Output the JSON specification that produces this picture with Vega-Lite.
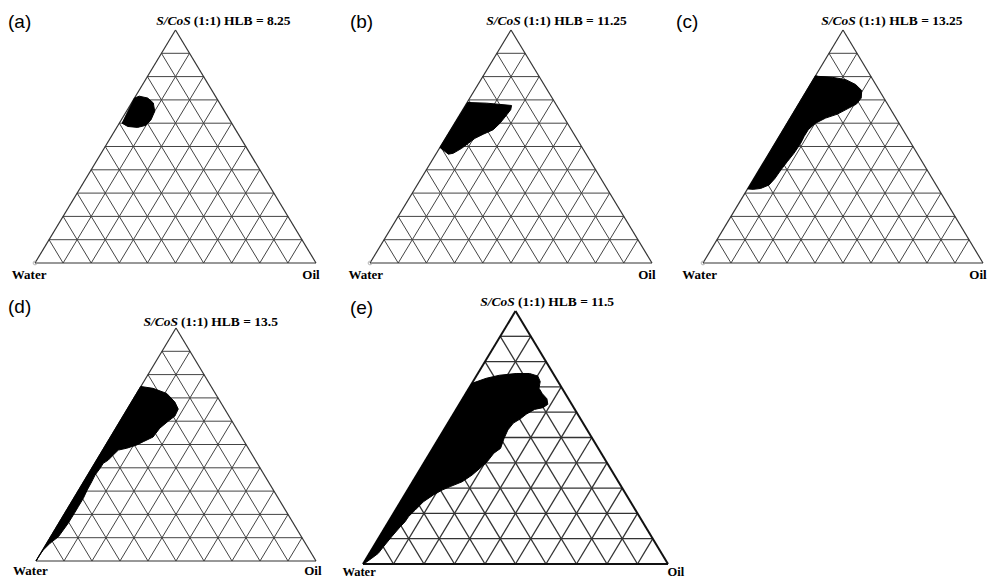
{
"$schema":"https://vega.github.io/schema/vega-lite/v6.json",
"padding":0,
"background":"white",
"config":{"view":{"stroke":null},"concat":{"spacing":0}},
"datasets":{
"grid":[
{"x":0.05,"y":0.1,"x2":0.95,"y2":0.1},{"x":0.1,"y":0.2,"x2":0.9,"y2":0.2},{"x":0.15,"y":0.3,"x2":0.85,"y2":0.3},{"x":0.2,"y":0.4,"x2":0.8,"y2":0.4},{"x":0.25,"y":0.5,"x2":0.75,"y2":0.5},{"x":0.3,"y":0.6,"x2":0.7,"y2":0.6},{"x":0.35,"y":0.7,"x2":0.65,"y2":0.7},{"x":0.4,"y":0.8,"x2":0.6,"y2":0.8},{"x":0.45,"y":0.9,"x2":0.55,"y2":0.9},
{"x":0.1,"y":0,"x2":0.55,"y2":0.9},{"x":0.2,"y":0,"x2":0.6,"y2":0.8},{"x":0.3,"y":0,"x2":0.65,"y2":0.7},{"x":0.4,"y":0,"x2":0.7,"y2":0.6},{"x":0.5,"y":0,"x2":0.75,"y2":0.5},{"x":0.6,"y":0,"x2":0.8,"y2":0.4},{"x":0.7,"y":0,"x2":0.85,"y2":0.3},{"x":0.8,"y":0,"x2":0.9,"y2":0.2},{"x":0.9,"y":0,"x2":0.95,"y2":0.1},
{"x":0.9,"y":0,"x2":0.45,"y2":0.9},{"x":0.8,"y":0,"x2":0.4,"y2":0.8},{"x":0.7,"y":0,"x2":0.35,"y2":0.7},{"x":0.6,"y":0,"x2":0.3,"y2":0.6},{"x":0.5,"y":0,"x2":0.25,"y2":0.5},{"x":0.4,"y":0,"x2":0.2,"y2":0.4},{"x":0.3,"y":0,"x2":0.15,"y2":0.3},{"x":0.2,"y":0,"x2":0.1,"y2":0.2},{"x":0.1,"y":0,"x2":0.05,"y2":0.1}
],
"sides":[{"x":0,"y":0,"x2":1,"y2":0},{"x":0,"y":0,"x2":0.5,"y2":1},{"x":1,"y":0,"x2":0.5,"y2":1}],
"corner":[{"x":0,"y":0}]
},
"vconcat":[
{"hconcat":[
{"width":335,"height":285,
"encoding":{"x":{"field":"x","type":"quantitative","axis":null,"scale":{"domain":[-0.124555,1.067616],"nice":false,"zero":false}},"y":{"field":"y","type":"quantitative","axis":null,"scale":{"domain":[-0.094421,1.128755],"nice":false,"zero":false}}},
"layer":[
{"data":{"name":"grid"},"mark":{"type":"rule","stroke":"#444","strokeWidth":1},"encoding":{"x2":{"field":"x2"},"y2":{"field":"y2"}}},
{"data":{"name":"sides"},"mark":{"type":"rule","stroke":"#333","strokeWidth":1.2},"encoding":{"x2":{"field":"x2"},"y2":{"field":"y2"}}},
{"data":{"values":[{"i":0,"x":0.354,"y":0.708},{"i":1,"x":0.371,"y":0.716},{"i":2,"x":0.401,"y":0.708},{"i":3,"x":0.421,"y":0.687},{"i":4,"x":0.426,"y":0.651},{"i":5,"x":0.413,"y":0.615},{"i":6,"x":0.395,"y":0.591},{"i":7,"x":0.365,"y":0.582},{"i":8,"x":0.33,"y":0.586},{"i":9,"x":0.31,"y":0.6}]},"mark":{"type":"line","fill":"black","stroke":"black","strokeWidth":1,"interpolate":"linear-closed"},"encoding":{"order":{"field":"i","type":"quantitative"}}},
{"data":{"name":"corner"},"mark":{"type":"point","shape":"circle","size":14,"filled":false,"stroke":"#999","strokeWidth":1}},
{"data":{"values":[{"x":-0.021,"y":-0.0515,"t":"Water"},{"x":0.982,"y":-0.0515,"t":"Oil"}]},"mark":{"type":"text","font":"Liberation Serif","fontWeight":"bold","fontSize":13,"baseline":"middle","align":"center","color":"black"},"encoding":{"text":{"field":"t"}}},
{"data":{"values":[{"x":0.554,"y":1.039,"a":"S/CoS","b":"(1:1) HLB = 8.25"}]},"layer":[
{"mark":{"type":"text","font":"Liberation Serif","fontWeight":"bold","fontStyle":"italic","fontSize":13.5,"align":"right","baseline":"middle","color":"black"},"encoding":{"text":{"field":"a"}}},
{"mark":{"type":"text","font":"Liberation Serif","fontWeight":"bold","fontSize":13.5,"align":"left","dx":3,"baseline":"middle","color":"black"},"encoding":{"text":{"field":"b"}}}]},
{"data":{"values":[{"x":-0.096,"y":1.034,"t":"(a)"}]},"mark":{"type":"text","font":"Liberation Sans","fontSize":19,"align":"left","baseline":"middle","color":"black"},"encoding":{"text":{"field":"t"}}}
]},
{"width":333,"height":285,
"encoding":{"x":{"field":"x","type":"quantitative","axis":null,"scale":{"domain":[-0.124113,1.056738],"nice":false,"zero":false}},"y":{"field":"y","type":"quantitative","axis":null,"scale":{"domain":[-0.094421,1.128755],"nice":false,"zero":false}}},
"layer":[
{"data":{"name":"grid"},"mark":{"type":"rule","stroke":"#444","strokeWidth":1},"encoding":{"x2":{"field":"x2"},"y2":{"field":"y2"}}},
{"data":{"name":"sides"},"mark":{"type":"rule","stroke":"#333","strokeWidth":1.2},"encoding":{"x2":{"field":"x2"},"y2":{"field":"y2"}}},
{"data":{"values":[{"i":0,"x":0.346,"y":0.689},{"i":1,"x":0.414,"y":0.686},{"i":2,"x":0.502,"y":0.676},{"i":3,"x":0.499,"y":0.658},{"i":4,"x":0.485,"y":0.636},{"i":5,"x":0.461,"y":0.6},{"i":6,"x":0.437,"y":0.572},{"i":7,"x":0.402,"y":0.553},{"i":8,"x":0.372,"y":0.535},{"i":9,"x":0.349,"y":0.514},{"i":10,"x":0.325,"y":0.492},{"i":11,"x":0.295,"y":0.471},{"i":12,"x":0.278,"y":0.467},{"i":13,"x":0.248,"y":0.496}]},"mark":{"type":"line","fill":"black","stroke":"black","strokeWidth":1,"interpolate":"linear-closed"},"encoding":{"order":{"field":"i","type":"quantitative"}}},
{"data":{"name":"corner"},"mark":{"type":"point","shape":"circle","size":14,"filled":false,"stroke":"#999","strokeWidth":1}},
{"data":{"values":[{"x":-0.015,"y":-0.0515,"t":"Water"},{"x":0.982,"y":-0.0515,"t":"Oil"}]},"mark":{"type":"text","font":"Liberation Serif","fontWeight":"bold","fontSize":13,"baseline":"middle","align":"center","color":"black"},"encoding":{"text":{"field":"t"}}},
{"data":{"values":[{"x":0.535,"y":1.039,"a":"S/CoS","b":"(1:1) HLB = 11.25"}]},"layer":[
{"mark":{"type":"text","font":"Liberation Serif","fontWeight":"bold","fontStyle":"italic","fontSize":13.5,"align":"right","baseline":"middle","color":"black"},"encoding":{"text":{"field":"a"}}},
{"mark":{"type":"text","font":"Liberation Serif","fontWeight":"bold","fontSize":13.5,"align":"left","dx":3,"baseline":"middle","color":"black"},"encoding":{"text":{"field":"b"}}}]},
{"data":{"values":[{"x":-0.071,"y":1.034,"t":"(b)"}]},"mark":{"type":"text","font":"Liberation Sans","fontSize":19,"align":"left","baseline":"middle","color":"black"},"encoding":{"text":{"field":"t"}}}
]},
{"width":330,"height":285,
"encoding":{"x":{"field":"x","type":"quantitative","axis":null,"scale":{"domain":[-0.125,1.053571],"nice":false,"zero":false}},"y":{"field":"y","type":"quantitative","axis":null,"scale":{"domain":[-0.094421,1.128755],"nice":false,"zero":false}}},
"layer":[
{"data":{"name":"grid"},"mark":{"type":"rule","stroke":"#444","strokeWidth":1},"encoding":{"x2":{"field":"x2"},"y2":{"field":"y2"}}},
{"data":{"name":"sides"},"mark":{"type":"rule","stroke":"#333","strokeWidth":1.2},"encoding":{"x2":{"field":"x2"},"y2":{"field":"y2"}}},
{"data":{"values":[{"i":0,"x":0.402,"y":0.804},{"i":1,"x":0.412,"y":0.801},{"i":2,"x":0.462,"y":0.797},{"i":3,"x":0.51,"y":0.787},{"i":4,"x":0.545,"y":0.766},{"i":5,"x":0.567,"y":0.74},{"i":6,"x":0.565,"y":0.708},{"i":7,"x":0.548,"y":0.682},{"i":8,"x":0.521,"y":0.665},{"i":9,"x":0.48,"y":0.639},{"i":10,"x":0.438,"y":0.622},{"i":11,"x":0.402,"y":0.6},{"i":12,"x":0.376,"y":0.572},{"i":13,"x":0.361,"y":0.543},{"i":14,"x":0.349,"y":0.514},{"i":15,"x":0.325,"y":0.471},{"i":16,"x":0.301,"y":0.435},{"i":17,"x":0.278,"y":0.399},{"i":18,"x":0.257,"y":0.363},{"i":19,"x":0.236,"y":0.335},{"i":20,"x":0.206,"y":0.32},{"i":21,"x":0.179,"y":0.316},{"i":22,"x":0.16,"y":0.318}]},"mark":{"type":"line","fill":"black","stroke":"black","strokeWidth":1,"interpolate":"linear-closed"},"encoding":{"order":{"field":"i","type":"quantitative"}}},
{"data":{"name":"corner"},"mark":{"type":"point","shape":"circle","size":14,"filled":false,"stroke":"#999","strokeWidth":1}},
{"data":{"values":[{"x":-0.012,"y":-0.0515,"t":"Water"},{"x":0.982,"y":-0.0515,"t":"Oil"}]},"mark":{"type":"text","font":"Liberation Serif","fontWeight":"bold","fontSize":13,"baseline":"middle","align":"center","color":"black"},"encoding":{"text":{"field":"t"}}},
{"data":{"values":[{"x":0.546,"y":1.039,"a":"S/CoS","b":"(1:1) HLB = 13.25"}]},"layer":[
{"mark":{"type":"text","font":"Liberation Serif","fontWeight":"bold","fontStyle":"italic","fontSize":13.5,"align":"right","baseline":"middle","color":"black"},"encoding":{"text":{"field":"a"}}},
{"mark":{"type":"text","font":"Liberation Serif","fontWeight":"bold","fontSize":13.5,"align":"left","dx":3,"baseline":"middle","color":"black"},"encoding":{"text":{"field":"b"}}}]},
{"data":{"values":[{"x":-0.096,"y":1.034,"t":"(c)"}]},"mark":{"type":"text","font":"Liberation Sans","fontSize":19,"align":"left","baseline":"middle","color":"black"},"encoding":{"text":{"field":"t"}}}
]}
]},
{"hconcat":[
{"width":335,"height":294,
"encoding":{"x":{"field":"x","type":"quantitative","axis":null,"scale":{"domain":[-0.128571,1.067857],"nice":false,"zero":false}},"y":{"field":"y","type":"quantitative","axis":null,"scale":{"domain":[-0.077253,1.184549],"nice":false,"zero":false}}},
"layer":[
{"data":{"name":"grid"},"mark":{"type":"rule","stroke":"#444","strokeWidth":1},"encoding":{"x2":{"field":"x2"},"y2":{"field":"y2"}}},
{"data":{"name":"sides"},"mark":{"type":"rule","stroke":"#333","strokeWidth":1.2},"encoding":{"x2":{"field":"x2"},"y2":{"field":"y2"}}},
{"data":{"values":[{"i":0,"x":0.374,"y":0.749},{"i":1,"x":0.418,"y":0.741},{"i":2,"x":0.467,"y":0.719},{"i":3,"x":0.496,"y":0.682},{"i":4,"x":0.508,"y":0.652},{"i":5,"x":0.496,"y":0.622},{"i":6,"x":0.472,"y":0.6},{"i":7,"x":0.442,"y":0.57},{"i":8,"x":0.418,"y":0.532},{"i":9,"x":0.383,"y":0.512},{"i":10,"x":0.36,"y":0.498},{"i":11,"x":0.324,"y":0.484},{"i":12,"x":0.294,"y":0.476},{"i":13,"x":0.276,"y":0.455},{"i":14,"x":0.258,"y":0.433},{"i":15,"x":0.24,"y":0.419},{"i":16,"x":0.229,"y":0.398},{"i":17,"x":0.211,"y":0.369},{"i":18,"x":0.199,"y":0.34},{"i":19,"x":0.183,"y":0.305},{"i":20,"x":0.169,"y":0.269},{"i":21,"x":0.151,"y":0.233},{"i":22,"x":0.133,"y":0.197},{"i":23,"x":0.115,"y":0.162},{"i":24,"x":0.0975,"y":0.133},{"i":25,"x":0.08,"y":0.104},{"i":26,"x":0.05,"y":0.076},{"i":27,"x":0.026,"y":0.047},{"i":28,"x":0.012,"y":0.024},{"i":29,"x":0,"y":0}]},"mark":{"type":"line","fill":"black","stroke":"black","strokeWidth":1,"interpolate":"linear-closed"},"encoding":{"order":{"field":"i","type":"quantitative"}}},
{"data":{"values":[{"x":-0.02,"y":-0.043,"t":"Water"},{"x":0.989,"y":-0.043,"t":"Oil"}]},"mark":{"type":"text","font":"Liberation Serif","fontWeight":"bold","fontSize":13,"baseline":"middle","align":"center","color":"black"},"encoding":{"text":{"field":"t"}}},
{"data":{"values":[{"x":0.507,"y":1.026,"a":"S/CoS","b":"(1:1) HLB = 13.5"}]},"layer":[
{"mark":{"type":"text","font":"Liberation Serif","fontWeight":"bold","fontStyle":"italic","fontSize":13.5,"align":"right","baseline":"middle","color":"black"},"encoding":{"text":{"field":"a"}}},
{"mark":{"type":"text","font":"Liberation Serif","fontWeight":"bold","fontSize":13.5,"align":"left","dx":3,"baseline":"middle","color":"black"},"encoding":{"text":{"field":"b"}}}]},
{"data":{"values":[{"x":-0.1,"y":1.09,"t":"(d)"}]},"mark":{"type":"text","font":"Liberation Sans","fontSize":19,"align":"left","baseline":"middle","color":"black"},"encoding":{"text":{"field":"t"}}}
]},
{"width":365,"height":294,
"encoding":{"x":{"field":"x","type":"quantitative","axis":null,"scale":{"domain":[-0.091803,1.104918],"nice":false,"zero":false}},"y":{"field":"y","type":"quantitative","axis":null,"scale":{"domain":[-0.059289,1.102767],"nice":false,"zero":false}}},
"layer":[
{"data":{"name":"grid"},"mark":{"type":"rule","stroke":"#333","strokeWidth":1.3},"encoding":{"x2":{"field":"x2"},"y2":{"field":"y2"}}},
{"data":{"name":"sides"},"mark":{"type":"rule","stroke":"#111","strokeWidth":2},"encoding":{"x2":{"field":"x2"},"y2":{"field":"y2"}}},
{"data":{"values":[{"i":0,"x":0.357,"y":0.714},{"i":1,"x":0.404,"y":0.734},{"i":2,"x":0.447,"y":0.746},{"i":3,"x":0.502,"y":0.753},{"i":4,"x":0.546,"y":0.753},{"i":5,"x":0.573,"y":0.743},{"i":6,"x":0.581,"y":0.721},{"i":7,"x":0.577,"y":0.695},{"i":8,"x":0.588,"y":0.673},{"i":9,"x":0.603,"y":0.653},{"i":10,"x":0.606,"y":0.631},{"i":11,"x":0.59,"y":0.618},{"i":12,"x":0.5625,"y":0.611},{"i":13,"x":0.535,"y":0.592},{"i":14,"x":0.515,"y":0.573},{"i":15,"x":0.493,"y":0.557},{"i":16,"x":0.475,"y":0.53},{"i":17,"x":0.462,"y":0.495},{"i":18,"x":0.451,"y":0.457},{"i":19,"x":0.429,"y":0.438},{"i":20,"x":0.407,"y":0.404},{"i":21,"x":0.39,"y":0.385},{"i":22,"x":0.358,"y":0.352},{"i":23,"x":0.325,"y":0.325},{"i":24,"x":0.286,"y":0.306},{"i":25,"x":0.259,"y":0.292},{"i":26,"x":0.231,"y":0.273},{"i":27,"x":0.198,"y":0.246},{"i":28,"x":0.171,"y":0.213},{"i":29,"x":0.149,"y":0.187},{"i":30,"x":0.138,"y":0.167},{"i":31,"x":0.122,"y":0.147},{"i":32,"x":0.094,"y":0.108},{"i":33,"x":0.067,"y":0.068},{"i":34,"x":0.05,"y":0.042},{"i":35,"x":0.029,"y":0.023},{"i":36,"x":0.007,"y":0.004},{"i":37,"x":0,"y":0}]},"mark":{"type":"line","fill":"black","stroke":"black","strokeWidth":1,"interpolate":"linear-closed"},"encoding":{"order":{"field":"i","type":"quantitative"}}},
{"data":{"values":[{"x":-0.013,"y":-0.032,"t":"Water"},{"x":1.026,"y":-0.032,"t":"Oil"}]},"mark":{"type":"text","font":"Liberation Serif","fontWeight":"bold","fontSize":12.5,"baseline":"middle","align":"center","color":"black"},"encoding":{"text":{"field":"t"}}},
{"data":{"values":[{"x":0.498,"y":1.036,"a":"S/CoS","b":"(1:1) HLB = 11.5"}]},"layer":[
{"mark":{"type":"text","font":"Liberation Serif","fontWeight":"bold","fontStyle":"italic","fontSize":13.5,"align":"right","baseline":"middle","color":"black"},"encoding":{"text":{"field":"a"}}},
{"mark":{"type":"text","font":"Liberation Serif","fontWeight":"bold","fontSize":13.5,"align":"left","dx":3,"baseline":"middle","color":"black"},"encoding":{"text":{"field":"b"}}}]},
{"data":{"values":[{"x":-0.043,"y":1.012,"t":"(e)"}]},"mark":{"type":"text","font":"Liberation Sans","fontSize":19,"align":"left","baseline":"middle","color":"black"},"encoding":{"text":{"field":"t"}}}
]}
]}
]
}
